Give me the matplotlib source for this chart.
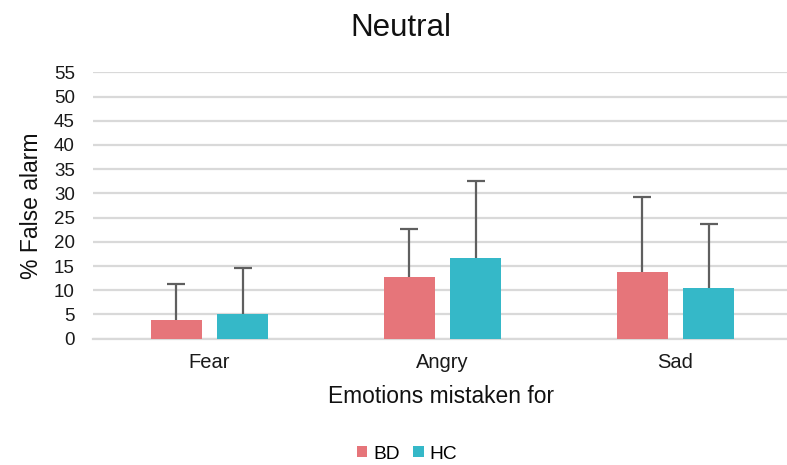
import matplotlib
matplotlib.use("Agg")
import matplotlib.pyplot as plt
from matplotlib.patches import Patch
import numpy as np

# Mean false-alarm rates (%) and their standard deviations
categories = ["Fear", "Angry", "Sad"]
groups = ["BD", "HC"]
bd_values = [3.9, 12.8, 13.8]
hc_values = [5.2, 16.6, 10.4]
bd_sd = [7.3, 9.8, 15.5]
hc_sd = [9.3, 16.0, 13.2]
y_ticks = [0, 5, 10, 15, 20, 25, 30, 35, 40, 45, 50, 55]

bd_color = "#E6757A"
hc_color = "#35B8C8"
err_color = "#5f5f5f"
grid_color = "#d9d9d9"

plt.rcParams["font.family"] = ["Liberation Sans", "DejaVu Sans"]

W, H = 787, 465
fig = plt.figure(figsize=(W / 100, H / 100), dpi=100)
fig.patch.set_facecolor("white")

ax_left, ax_right = 93, 787
ax_top, ax_bottom = 72.3, 338.7
ax = fig.add_axes([ax_left / W, 1 - ax_bottom / H,
                   (ax_right - ax_left) / W, (ax_bottom - ax_top) / H])

x = np.arange(len(categories))
width = 0.217
offset = 0.1427

err_kw = dict(ecolor=err_color, elinewidth=1.6, capsize=6.5, capthick=1.6)
for pos, vals, sds, col in [(x - offset, bd_values, bd_sd, bd_color),
                            (x + offset, hc_values, hc_sd, hc_color)]:
    cont = ax.bar(pos, vals, width, color=col, zorder=3,
                  yerr=[np.zeros(len(sds)), sds], error_kw=err_kw)
    # positive-only error bars: hide the cap at the bar top
    caplines = cont.errorbar.lines[1]
    caplines[0].set_visible(False)

ax.set_xlim(-0.5, -0.5 + (ax_right - ax_left) / 233.0)
ax.set_ylim(0, 55)
ax.set_yticks(y_ticks)
ax.set_yticklabels([str(v) for v in y_ticks], fontsize=13.5, color="#1a1a1a")
ax.set_xticks(x)
ax.set_xticklabels(categories, fontsize=14.5, color="#1a1a1a")
ax.tick_params(axis="y", length=0, pad=13)
ax.tick_params(axis="x", length=0, pad=10)

ax.yaxis.grid(True, color=grid_color, linewidth=1.6, zorder=0)
ax.set_axisbelow(True)
for side in ["top", "right", "left"]:
    ax.spines[side].set_visible(False)
ax.spines["bottom"].set_color(grid_color)
ax.spines["bottom"].set_linewidth(1.6)

fig.text(401 / W, 1 - 36 / H, "Neutral", ha="center", va="baseline",
         fontsize=22.5, color="#111111")
fig.text(32 / W, 1 - 206 / H, "% False alarm", ha="center", va="center",
         rotation=90, fontsize=16.5, color="#111111")
fig.text(441 / W, 1 - 403 / H, "Emotions mistaken for", ha="center",
         va="baseline", fontsize=16.4, color="#111111")

handles = [Patch(facecolor=bd_color, edgecolor="none", label=groups[0]),
           Patch(facecolor=hc_color, edgecolor="none", label=groups[1])]
fig.legend(handles=handles, loc="center", bbox_to_anchor=(407 / W, 1 - 454 / H),
           ncol=2, frameon=False, fontsize=13.8, handlelength=0.55,
           handleheight=0.55, handletextpad=0.3, columnspacing=0.7,
           borderpad=0, borderaxespad=0)

fig.savefig("out.png", dpi=100, facecolor="white")
